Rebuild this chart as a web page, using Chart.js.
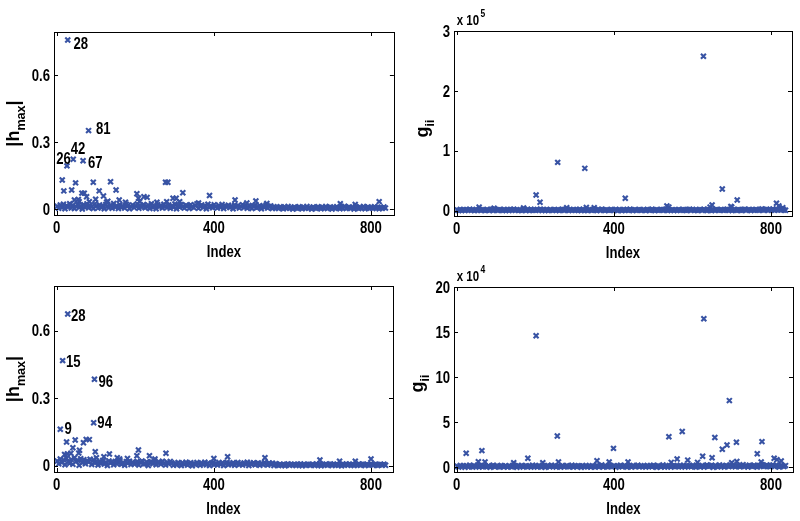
<!DOCTYPE html>
<html lang="en">
<head>
    <meta charset="UTF-8">
    <title>Leverage and g_ii by index</title>
    <script src="https://cdn.jsdelivr.net/npm/chart.js"></script>
    <style>
        body { margin: 0; background: #fff; }
        .panel { position: absolute; }
    </style>
</head>
<body>
    <div class="panel" style="left:0;top:0"><canvas id="hmax-top" width="400" height="260"></canvas></div>
    <div class="panel" style="left:400px;top:0"><canvas id="gii-top" width="400" height="260"></canvas></div>
    <div class="panel" style="left:0;top:260px"><canvas id="hmax-bottom" width="400" height="261"></canvas></div>
    <div class="panel" style="left:400px;top:260px"><canvas id="gii-bottom" width="400" height="261"></canvas></div>

    <script>
        // ---- data ----
        // the dense band: one value every bandStep indices, starting at index 1
        const bandStep = 4;

        const indexTicks = [0, 400, 800];
        const hmaxTicks = [0, 0.3, 0.6];
        const hmaxTickLabels = ["0", "0.3", "0.6"];
        const giiTopTicks = [0, 1, 2, 3];          // x 10^5
        const giiBottomTicks = [0, 5, 10, 15, 20]; // x 10^4

        // top left: |h_max|
        const hmaxTopBand = [
            .012,.003,.018,.007,.021,.001,.015,.009,.024,.004,
            .017,.002,.011,.020,.006,.014,.000,.019,.008,.023,
            .005,.016,.010,.002,.022,.013,.004,.018,.007,.015,
            .001,.020,.011,.006,.017,.003,.025,.009,.014,.002,
            .019,.008,.012,.004,.021,.016,.001,.010,.018,.006,
            .013,.022,.003,.015,.009,.020,.005,.011,.017,.002,
            .024,.007,.014,.001,.019,.010,.016,.004,.021,.012,
            .006,.018,.003,.013,.009,.022,.001,.015,.008,.020,
            .011,.004,.017,.014,.002,.019,.010,.006,.016,.023,
            .003,.012,.018,.007,.015,.001,.021,.009,.013,.005,
            .019,.011,.004,.016,.008,.020,.002,.014,.010,.017,
            .006,.013,.001,.018,.009,.015,.004,.011,.019,.007,
            .014,.003,.016,.010,.002,.012,.017,.005,.009,.015,
            .001,.013,.008,.018,.004,.011,.014,.002,.010,.006,
            .008,.002,.010,.005,.001,.009,.004,.011,.003,.007,
            .000,.009,.005,.002,.010,.006,.001,.008,.004,.011,
            .003,.007,.000,.009,.005,.002,.010,.006,.001,.008,
            .004,.011,.002,.006,.009,.000,.007,.003,.010,.005,
            .001,.008,.004,.012,.002,.006,.009,.003,.007,.000,
            .010,.005,.002,.008,.004,.011,.001,.006,.009,.003,
            .007,.002,.010,.005,.008,.001,.006,.003,.009,.004
        ];
        const hmaxTopIdx = [28,81,42,67,26,14,18,38,48,55,57,64,70,76,83,93,99,108,119,127,
            137,151,159,204,208,211,222,230,277,283,280,296,304,313,321,361,389,454,484,507,
            722,821,45,130,175,255,535,760];
        const hmaxTopVal = [.757,.351,.223,.216,.193,.130,.081,.085,.117,.043,.033,.071,.071,.055,.033,.120,.044,.081,.058,.030,
            .122,.085,.040,.068,.048,.033,.055,.052,.120,.120,.033,.048,.048,.033,.073,.027,.060,.040,.027,.036,
            .024,.033,.040,.035,.030,.030,.025,.020];
        const hmaxTopNoted = [28, 81, 42, 67, 26];

        // top right: g_ii, in units of 10^5
        const giiTopBand = [
            .012,.004,.021,.008,.015,.002,.018,.010,.025,.006,
            .014,.001,.019,.009,.023,.005,.016,.011,.003,.020,
            .007,.013,.024,.002,.017,.010,.006,.022,.012,.004,
            .019,.008,.015,.001,.021,.011,.026,.005,.014,.009,
            .018,.003,.012,.020,.007,.016,.002,.023,.010,.013,
            .005,.019,.011,.024,.004,.015,.008,.021,.001,.017,
            .012,.006,.020,.009,.014,.003,.018,.025,.007,.011,
            .022,.002,.016,.010,.019,.005,.013,.008,.024,.004,
            .015,.009,.021,.001,.017,.012,.006,.020,.011,.003,
            .018,.007,.023,.014,.002,.016,.010,.005,.019,.013,
            .008,.022,.004,.015,.011,.001,.020,.009,.017,.006,
            .024,.012,.003,.018,.008,.014,.021,.005,.010,.016,
            .002,.019,.013,.007,.023,.011,.004,.017,.009,.015,
            .020,.006,.012,.025,.003,.016,.010,.018,.001,.014,
            .008,.022,.005,.013,.019,.011,.002,.017,.024,.007,
            .015,.009,.021,.004,.012,.018,.006,.023,.010,.003,
            .019,.014,.001,.016,.008,.022,.011,.005,.020,.013,
            .006,.017,.024,.009,.015,.002,.019,.012,.007,.021,
            .011,.004,.018,.026,.008,.014,.020,.003,.016,.010,
            .022,.013,.006,.019,.027,.009,.015,.024,.005,.018,
            .012,.028,.007,.021,.016,.025,.010,.019,.013,.008
        ];
        const giiTopIdx = [628,257,326,202,212,429,676,714,650,814,535,698,57,170,330,350,540,645,700,820,830,95,280];
        const giiTopVal = [2.58,.807,.707,.262,.140,.207,.362,.178,.095,.123,.078,.070,.060,.045,.055,.050,.060,.060,.060,.080,.050,.040,.050];

        // bottom left: |h_max|
        const hmaxBottomBand = [
            .021,.008,.030,.014,.026,.004,.033,.017,.011,.028,
            .006,.035,.019,.024,.002,.031,.013,.027,.009,.022,
            .016,.029,.005,.025,.012,.020,.003,.018,.010,.023,
            .007,.015,.001,.021,.012,.017,.004,.019,.009,.014,
            .022,.006,.013,.002,.018,.011,.020,.005,.016,.008,
            .012,.019,.003,.015,.021,.007,.010,.017,.001,.014,
            .018,.009,.022,.004,.013,.016,.006,.020,.011,.003,
            .015,.008,.019,.012,.002,.011,.004,.014,.007,.001,
            .012,.006,.015,.003,.009,.013,.000,.010,.005,.014,
            .008,.002,.012,.006,.015,.004,.011,.001,.009,.013,
            .005,.010,.003,.014,.007,.012,.001,.008,.015,.004,
            .011,.006,.013,.002,.009,.014,.005,.010,.003,.012,
            .007,.015,.001,.011,.006,.013,.004,.009,.012,.002,
            .010,.005,.014,.008,.003,.012,.006,.011,.001,.009,
            .004,.001,.007,.003,.006,.000,.005,.008,.002,.006,
            .003,.007,.001,.005,.004,.008,.000,.006,.002,.005,
            .007,.002,.004,.006,.001,.008,.003,.005,.000,.006,
            .004,.007,.002,.005,.008,.001,.006,.003,.007,.002,
            .005,.000,.006,.004,.008,.002,.007,.003,.005,.001,
            .006,.004,.008,.002,.005,.007,.001,.006,.003,.004,
            .008,.002,.005,.007,.001,.004,.006,.003,.007,.002
        ];
        const hmaxBottomIdx = [28,15,96,94,9,25,47,41,58,68,75,83,56,36,20,27,98,101,134,154,
            180,204,208,236,278,400,435,530,670,720,800,760,120,160,250];
        const hmaxBottomVal = [.674,.467,.384,.191,.162,.105,.114,.080,.069,.102,.117,.116,.056,.055,.050,.052,.062,.035,.052,.035,
            .032,.044,.070,.044,.055,.032,.040,.035,.025,.020,.030,.020,.040,.030,.030];
        const hmaxBottomNoted = [28, 15, 96, 94, 9];

        // bottom right: g_ii, in units of 10^4
        const giiBottomBand = [
            .12,.03,.21,.08,.16,.01,.19,.06,.24,.10,
            .04,.17,.09,.22,.02,.14,.07,.20,.11,.05,
            .18,.01,.13,.23,.06,.15,.09,.03,.20,.12,
            .07,.16,.02,.19,.10,.05,.22,.14,.00,.17,
            .09,.21,.04,.13,.18,.06,.11,.02,.24,.08,
            .15,.03,.20,.10,.07,.17,.01,.12,.19,.05,
            .22,.09,.14,.04,.16,.11,.02,.21,.07,.13,
            .18,.05,.10,.23,.03,.15,.08,.19,.12,.01,
            .16,.09,.21,.06,.13,.02,.18,.11,.04,.20,
            .07,.14,.25,.03,.17,.10,.05,.22,.12,.08,
            .19,.01,.15,.09,.23,.06,.13,.18,.02,.11,
            .16,.04,.21,.08,.12,.24,.05,.17,.10,.14,
            .03,.20,.09,.15,.06,.22,.11,.01,.18,.13,
            .07,.25,.04,.16,.10,.19,.02,.14,.21,.08,
            .12,.05,.23,.09,.17,.03,.20,.11,.15,.06,
            .24,.10,.02,.18,.13,.07,.21,.04,.16,.27,
            .09,.14,.22,.01,.19,.12,.06,.25,.10,.17,
            .03,.21,.15,.08,.26,.11,.18,.05,.23,.13,
            .07,.19,.28,.10,.16,.02,.22,.14,.09,.24,
            .12,.04,.20,.17,.29,.08,.15,.25,.11,.06,
            .18,.26,.09,.22,.13,.03,.21,.16,.10,.19
        ];
        const giiBottomIdx = [629,202,694,574,540,256,657,712,777,688,676,765,399,24,64,181,650,626,561,588,
            808,815,826,72,55,145,219,259,357,388,436,546,613,713,775,700];
        const giiBottomVal = [16.48,14.59,7.4,3.98,3.4,3.48,3.3,2.78,2.85,2.48,2.0,1.5,2.1,1.55,1.85,1.0,1.07,1.22,.92,.8,
            1.0,.85,.7,.6,.62,.5,.5,.6,.73,.6,.6,.55,.55,.65,.6,.5];

        // ---- drawing ----
        const markerColor = "#3853a4";
        const fontFamily = '"Liberation Sans", Arial, Helvetica, sans-serif';

        // where each annotation sits relative to its marker: [dx to text start, dy to text middle]
        const noteOffsets = {
            "hmax-top": { 28: [5.7, 3.3], 81: [7.4, -2.7], 42: [-2.6, -11.3], 67: [5, 1.3], 26: [-10.7, -8] },
            "hmax-bottom": { 28: [3.3, 1], 15: [3.4, 0.3], 96: [4, 1.7], 94: [3.7, 0], 9: [4.3, -1] }
        };

        function squeezedText(ctx, text, x, y, size, align, squeeze) {
            ctx.save();
            ctx.translate(x, y);
            ctx.scale(squeeze, 1);
            ctx.font = "bold " + size + "px " + fontFamily;
            ctx.textAlign = align;
            ctx.textBaseline = "alphabetic";
            ctx.fillStyle = "#000";
            ctx.fillText(text, 0, 0);
            ctx.restore();
        }

        function textWidth(ctx, text, size, squeeze) {
            ctx.save();
            ctx.font = "bold " + size + "px " + fontFamily;
            const w = ctx.measureText(text).width * squeeze;
            ctx.restore();
            return w;
        }

        // rotated y label with a subscript part
        function yLabel(ctx, main, sub, tail, baseX, centerY) {
            const big = 18, small = 12.6;
            ctx.save();
            ctx.translate(baseX, centerY);
            ctx.rotate(-Math.PI / 2);
            ctx.fillStyle = "#000";
            ctx.textBaseline = "alphabetic";
            ctx.textAlign = "left";
            ctx.font = "bold " + big + "px " + fontFamily;
            const wMain = ctx.measureText(main).width;
            const wTail = ctx.measureText(tail).width;
            ctx.font = "bold " + small + "px " + fontFamily;
            const wSub = ctx.measureText(sub).width;
            let x = -(wMain + wSub + wTail) / 2;
            ctx.font = "bold " + big + "px " + fontFamily;
            ctx.fillText(main, x, 0);
            x += wMain;
            ctx.font = "bold " + small + "px " + fontFamily;
            ctx.fillText(sub, x, 6);
            x += wSub;
            ctx.font = "bold " + big + "px " + fontFamily;
            ctx.fillText(tail, x, 0);
            ctx.restore();
        }

        function makePanel(cfg) {
            const canvas = document.getElementById(cfg.id);
            const W = canvas.width, H = canvas.height;
            const area = cfg.area;

            const bandPts = cfg.band.map((v, i) => ({ x: 1 + i * bandStep, y: v }));
            const outPts = cfg.idx.map((x, i) => ({ x: x, y: cfg.val[i] }));

            const frame = {
                id: "frame-" + cfg.id,
                afterDatasetsDraw(chart) {
                    const ctx = chart.ctx;
                    const ca = chart.chartArea;
                    const xs = chart.scales.x, ys = chart.scales.y;
                    ctx.save();
                    ctx.strokeStyle = "#000";
                    ctx.lineWidth = 1;
                    ctx.strokeRect(Math.round(ca.left) + 0.5, Math.round(ca.top) + 0.5,
                        Math.round(ca.right - ca.left), Math.round(ca.bottom - ca.top));
                    ctx.beginPath();
                    xs.ticks.forEach(t => {
                        const px = Math.round(xs.getPixelForValue(t.value)) + 0.5;
                        ctx.moveTo(px, ca.bottom); ctx.lineTo(px, ca.bottom - 4);
                        ctx.moveTo(px, ca.top); ctx.lineTo(px, ca.top + 4);
                    });
                    ys.ticks.forEach(t => {
                        const py = Math.round(ys.getPixelForValue(t.value)) + 0.5;
                        ctx.moveTo(ca.left, py); ctx.lineTo(ca.left + 4, py);
                        ctx.moveTo(ca.right, py); ctx.lineTo(ca.right - 4, py);
                    });
                    ctx.stroke();
                    ctx.restore();

                    xs.ticks.forEach(t => {
                        squeezedText(ctx, String(t.value), xs.getPixelForValue(t.value), ca.bottom + 18.3, 16, "center", 0.82);
                    });
                    ys.ticks.forEach((t, i) => {
                        squeezedText(ctx, cfg.yLabels[i], ca.left - 4, ys.getPixelForValue(t.value) + 5.7, 16, "right", 0.82);
                    });

                    squeezedText(ctx, "Index", (ca.left + ca.right) / 2, ca.bottom + 41.5, 16, "center", 0.82);
                    yLabel(ctx, cfg.title[0], cfg.title[1], cfg.title[2], cfg.titleX, (ca.top + ca.bottom) / 2 + cfg.titleShift);

                    if (cfg.exponent) {
                        const x0 = ca.left + 2.7, y0 = ca.top - 6;
                        squeezedText(ctx, "x 10", x0, y0, 14, "left", 0.82);
                        const w = textWidth(ctx, "x 10", 14, 0.82);
                        squeezedText(ctx, cfg.exponent, x0 + w + 1.5, y0 - 8, 10, "left", 0.85);
                    }

                    (cfg.noted || []).forEach(n => {
                        const k = cfg.idx.indexOf(n);
                        const off = noteOffsets[cfg.id][n];
                        const px = xs.getPixelForValue(n), py = ys.getPixelForValue(cfg.val[k]);
                        squeezedText(ctx, String(n), px + off[0], py + off[1] + 5.7, 16, "left", 0.82);
                    });
                }
            };

            const style = {
                pointStyle: "crossRot",
                pointRadius: 3.5,
                pointBorderWidth: 2.1,
                borderColor: markerColor,
                backgroundColor: markerColor,
                showLine: false
            };

            new Chart(canvas, {
                type: "scatter",
                data: {
                    datasets: [
                        Object.assign({ data: bandPts }, style),
                        Object.assign({ data: outPts }, style)
                    ]
                },
                options: {
                    responsive: false,
                    animation: false,
                    devicePixelRatio: 1,
                    layout: { padding: { left: 0, top: area.top, right: W - area.right, bottom: 0 } },
                    plugins: { legend: { display: false }, tooltip: { enabled: false } },
                    scales: {
                        x: {
                            type: "linear",
                            min: cfg.xRange[0],
                            max: cfg.xRange[1],
                            grid: { display: false, drawTicks: false },
                            border: { display: false },
                            ticks: { display: false },
                            afterBuildTicks: s => { s.ticks = indexTicks.map(v => ({ value: v })); },
                            afterFit: s => { s.height = H - area.bottom; }
                        },
                        y: {
                            type: "linear",
                            min: cfg.yRange[0],
                            max: cfg.yRange[1],
                            grid: { display: false, drawTicks: false },
                            border: { display: false },
                            ticks: { display: false },
                            afterBuildTicks: s => { s.ticks = cfg.yTicks.map(v => ({ value: v })); },
                            afterFit: s => { s.width = area.left; }
                        }
                    }
                },
                plugins: [frame]
            });
        }

        makePanel({
            id: "hmax-top", area: { left: 54, right: 394, top: 32, bottom: 215 },
            xRange: [-7, 858.5], yRange: [-0.0269, 0.7925],
            yTicks: hmaxTicks, yLabels: hmaxTickLabels,
            band: hmaxTopBand, idx: hmaxTopIdx, val: hmaxTopVal, noted: hmaxTopNoted,
            title: ["|h", "max", "|"], titleX: 18.5, titleShift: 0
        });
        makePanel({
            id: "gii-top", area: { left: 54, right: 392, top: 31, bottom: 216 },
            xRange: [-7, 853.5], yRange: [-0.0885, 3],
            yTicks: giiTopTicks, yLabels: giiTopTicks.map(String),
            band: giiTopBand, idx: giiTopIdx, val: giiTopVal,
            title: ["g", "ii", ""], titleX: 27.7, titleShift: 5, exponent: "5"
        });
        makePanel({
            id: "hmax-bottom", area: { left: 54, right: 393, top: 26, bottom: 212 },
            xRange: [-7, 856], yRange: [-0.028, 0.7987],
            yTicks: hmaxTicks, yLabels: hmaxTickLabels,
            band: hmaxBottomBand, idx: hmaxBottomIdx, val: hmaxBottomVal, noted: hmaxBottomNoted,
            title: ["|h", "max", "|"], titleX: 18.5, titleShift: 0
        });
        makePanel({
            id: "gii-bottom", area: { left: 54, right: 393, top: 27, bottom: 212 },
            xRange: [-7, 856], yRange: [-0.52, 20],
            yTicks: giiBottomTicks, yLabels: giiBottomTicks.map(String),
            band: giiBottomBand, idx: giiBottomIdx, val: giiBottomVal,
            title: ["g", "ii", ""], titleX: 23, titleShift: 4, exponent: "4"
        });
    </script>
</body>
</html>
